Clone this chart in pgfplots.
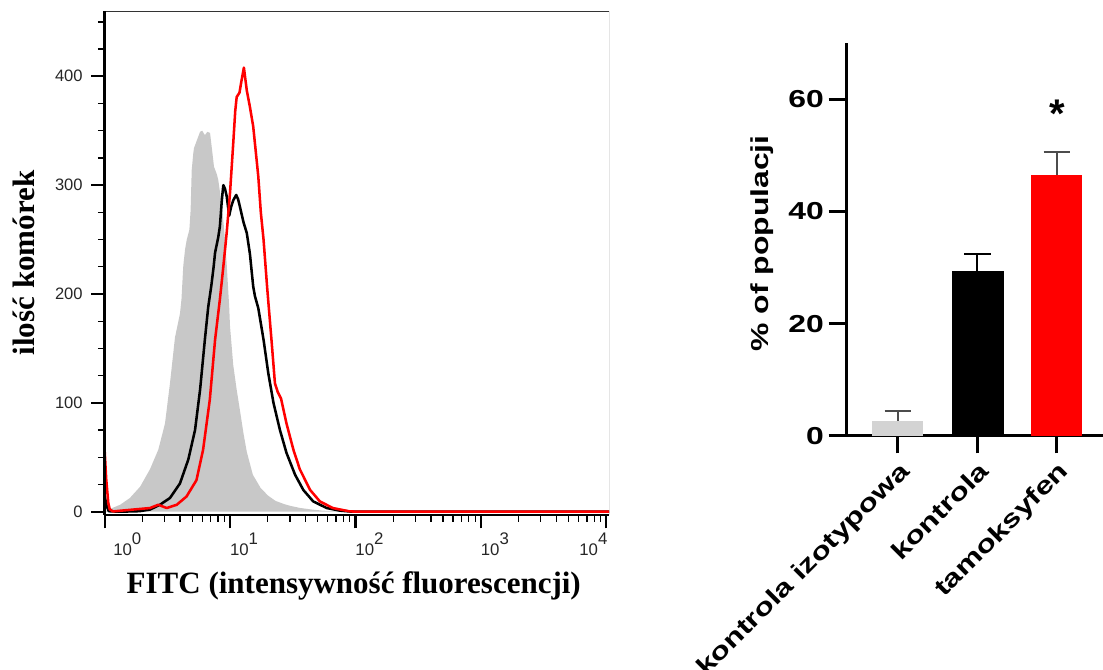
\documentclass[border=0pt]{standalone}
\usepackage{fontspec}
\setmainfont{Liberation Serif}
\setsansfont{Liberation Sans}
\newfontfamily\widesans[FakeStretch=1.3]{Liberation Sans}
\usepackage{pgfplots}
\usepackage{pgfplotstable}
\pgfplotsset{compat=1.18}
\definecolor{histgray}{RGB}{200,200,200}
\definecolor{barred}{RGB}{255,0,0}
\definecolor{bargray}{RGB}{211,211,211}

\pgfplotstableread{
x y
1.00 0
1.10 2.5
1.33 6.4
1.59 12.6
1.92 23
2.30 39
2.68 57
3.03 81
3.32 118
3.64 160
3.99 182
4.10 195
4.24 226
4.38 241
4.52 250
4.74 259
4.85 277
4.95 314
5.10 330
5.16 334
5.43 341
5.77 349
6.00 350
6.30 346
6.60 349
6.93 348
7.23 330
7.45 317
7.85 310
8.05 305
8.60 282
9.00 258
9.40 228
9.85 188
10.0 170
10.6 135
11.3 112
12.0 93
12.8 72
13.6 55
15.2 34
17.5 22
20 15
23 10
27 7
30 5.5
36 3.5
45 2
55 1
70 0.4
90 0
}\graydata

\pgfplotstableread{
x y
1.00 15
1.04 5
1.08 0.5
1.30 0
1.90 0.5
2.30 2
2.76 6.4
3.32 12.6
3.99 26
4.65 48
5.26 75
5.77 112
6.30 158
6.70 188
7.10 208
7.40 225
7.60 238
8.05 252
8.30 262
8.60 286
8.84 300
9.10 297
9.40 290
9.85 272
10.2 280
10.6 286
11.2 291
11.6 287
12.0 280
12.8 266
13.6 256
14.4 237
15.3 207
15.8 198
16.8 187
18.5 158
20.2 127
22.2 100
25.0 75
28.2 54
33 34
38.4 20
46 9.5
59 3.4
75 1
95 0
10500 0
}\blackdata

\pgfplotstableread{
x y
1.00 57
1.03 30
1.07 8
1.10 2
1.17 0.3
1.69 2
2.30 3.4
2.68 6.4
3.13 3.4
3.76 6.4
4.50 14
5.40 29
6.10 57
6.90 103
7.60 158
8.30 195
8.84 225
9.40 256
10.0 293
10.6 338
11.0 368
11.3 381
11.9 385
12.3 395
12.9 408
13.6 387
14.4 372
15.3 354
16.1 329
16.8 308
17.6 275
18.5 250
19.8 205
21.5 155
22.8 118
24.0 110
25.5 104
28.2 81
32 57
36 39
43.5 20
52 9.5
66 3.4
90 0.3
110 0
10500 0
}\reddata

\begin{document}
\begin{tikzpicture}
\useasboundingbox (0,0) rectangle (827.25pt,502.5pt);
% ---------------- left: histogram ----------------
\begin{axis}[
  at={(78.45pt,116.25pt)}, anchor=south west,
  scale only axis, width=378.3pt, height=378pt,
  xmode=log, xmin=1, xmax=10500, ymin=-3, ymax=460,
  axis x line*=bottom, axis y line*=left,
  axis line style={line width=1.8pt, -},
  axis on top,
  tick align=outside,
  xtick={1,10,100,1000,10000},
  minor xtick={2,3,4,5,6,7,8,9,20,30,40,50,60,70,80,90,200,300,400,500,600,700,800,900,2000,3000,4000,5000,6000,7000,8000,9000},
  xticklabels={{\hspace*{13pt}10\raisebox{.62em}{0}},{10\raisebox{.62em}{1}},{10\raisebox{.62em}{2}},{10\raisebox{.62em}{3}},{10\raisebox{.62em}{4}\hspace*{40.5pt}}},
  x tick label style={xshift=10.5pt, font=\fontsize{12.6}{14}\sffamily, text=black!85},
  ytick={0,100,200,300,400},
  minor ytick={25,50,...,450},
  /pgf/number format/assume math mode=true,
  y tick label style={font=\fontsize{12.4}{14}\sffamily, text=black!85, xshift=-3pt},
  major tick length=10pt, minor tick length=5pt,
  every major tick/.append style={line width=1.6pt, black},
  every minor tick/.append style={line width=1pt, black},
  xlabel={FITC (intensywność fluorescencji)},
  ylabel={ilość komórek},
  every axis x label/.style={at={(axis description cs:0.494,-0.141)}, anchor=center, font=\fontsize{23.25}{26}\selectfont\bfseries},
  every axis y label/.style={at={(axis description cs:-0.160,0.5)}, anchor=center, rotate=90, font=\fontsize{23.25}{26}\selectfont\bfseries},
]
\addplot[fill=histgray, draw=none] table {\graydata} \closedcycle;
\addplot[black, line width=1.9pt, line join=round] table {\blackdata};
\addplot[barred, line width=1.9pt, line join=round] table {\reddata};
\draw[line width=0.7pt, black!80] (rel axis cs:0,1) -- (rel axis cs:1,1) -- (rel axis cs:1,0);
\end{axis}
% ---------------- right: bar chart ----------------
\begin{axis}[
  at={(634.5pt,175.5pt)}, anchor=south west,
  scale only axis, width=192.75pt, height=294.75pt,
  xmin=-0.654, xmax=2.58, ymin=0, ymax=70,
  axis x line=bottom, axis y line=left,
  axis line style={line width=2.25pt, -},
  tick align=outside, major tick length=13pt,
  every major tick/.append style={line width=2.25pt, black},
  xtick={0,1,2},
  xticklabels={kontrola izotypowa, kontrola, tamoksyfen},
  x tick label style={rotate=45, anchor=north east, font={\fontsize{18.4}{20}\widesans\bfseries}},
  ytick={0,20,40,60},
  /pgf/number format/assume math mode=true,
  y tick label style={font={\fontsize{18.4}{20}\widesans\bfseries}},
  ylabel={\% of populacji},
  every axis y label/.style={at={(axis description cs:-0.327,0.49)}, anchor=center, rotate=90, font={\fontsize{18.4}{20}\widesans\bfseries}},
]
\addplot[ybar, bar shift=0pt, bar width=38.25pt, fill=bargray, draw=none,
  error bars/.cd, y dir=plus, y explicit,
  error bar style={line width=1.5pt, black!70},
  error mark options={rotate=90, line width=1.5pt, black!70, mark size=10pt}]
  coordinates {(0,2.7) +- (0,1.8)};
\addplot[ybar, bar shift=0pt, bar width=38.25pt, fill=black, draw=black,
  error bars/.cd, y dir=plus, y explicit,
  error bar style={line width=1.5pt, black},
  error mark options={rotate=90, line width=1.5pt, black, mark size=10pt}]
  coordinates {(1,29.4) +- (0,3.0)};
\addplot[ybar, bar shift=0pt, bar width=38.25pt, fill=barred, draw=none,
  error bars/.cd, y dir=plus, y explicit,
  error bar style={line width=1.5pt, black!70},
  error mark options={rotate=90, line width=1.5pt, black!70, mark size=10pt}]
  coordinates {(2,46.5) +- (0,4.1)};
\node[anchor=base, font={\fontsize{30}{30}\sffamily\bfseries}] at (axis cs:2,55) {*};
\end{axis}
\end{tikzpicture}
\end{document}
